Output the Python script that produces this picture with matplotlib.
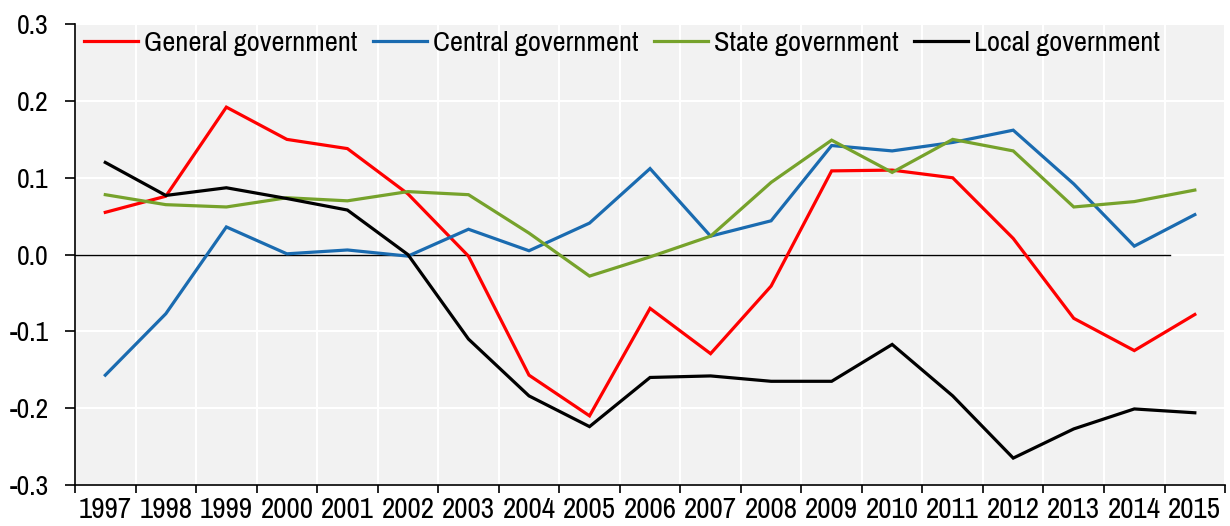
import matplotlib
matplotlib.use("Agg")
import matplotlib.pyplot as plt
from matplotlib import font_manager
from matplotlib.ticker import FixedLocator, NullFormatter, FixedFormatter

years = [str(y) for y in range(1997, 2016)]
general = [0.055, 0.076, 0.192, 0.150, 0.138, 0.079, -0.002, -0.157, -0.210, -0.070,
           -0.129, -0.041, 0.109, 0.110, 0.100, 0.021, -0.083, -0.125, -0.078]
central = [-0.157, -0.077, 0.036, 0.001, 0.006, -0.002, 0.033, 0.005, 0.041, 0.112,
           0.024, 0.044, 0.142, 0.135, 0.146, 0.162, 0.092, 0.011, 0.052]
state = [0.078, 0.065, 0.062, 0.074, 0.070, 0.082, 0.078, 0.028, -0.028, -0.003,
         0.024, 0.094, 0.149, 0.107, 0.150, 0.135, 0.062, 0.069, 0.084]
local = [0.120, 0.077, 0.087, 0.073, 0.058, 0.000, -0.110, -0.184, -0.224, -0.160,
         -0.158, -0.165, -0.165, -0.117, -0.184, -0.265, -0.227, -0.201, -0.206]
series_names = ["General government", "Central government", "State government", "Local government"]
series_colors = ["#FF0000", "#1A6BB0", "#76A22B", "#000000"]
y_ticks = [-0.3, -0.2, -0.1, 0.0, 0.1, 0.2, 0.3]

avail = {f.name for f in font_manager.fontManager.ttflist}
fam = "Liberation Sans"
for cand in ["Liberation Sans Narrow", "Arial Narrow", "Archivo Narrow", "PT Sans Narrow",
             "Roboto Condensed", "Open Sans Condensed", "Liberation Sans"]:
    if cand in avail:
        fam = cand
        break
plt.rcParams['font.family'] = [fam, 'Liberation Sans', 'DejaVu Sans']

fig = plt.figure(figsize=(12.3, 5.26), dpi=100)
ax = fig.add_axes([0.061, 0.078, 0.935, 0.876])
ax.set_facecolor("#F2F2F2")

x = list(range(len(years)))
for vals, name, col in zip([general, central, state, local], series_names, series_colors):
    ax.plot(x, vals, color=col, lw=2.3, label=name, solid_joinstyle='miter')

ax.axhline(0, xmin=0, xmax=0.952, color="black", lw=1.0, zorder=1.5)

ax.set_xlim(-0.5, len(years) - 0.5)
ax.set_ylim(-0.3, 0.3)

ax.set_yticks(y_ticks)
ax.set_yticklabels([f"{v:.1f}" for v in y_ticks])

bounds = [i - 0.5 for i in range(len(years) + 1)]
ax.xaxis.set_major_locator(FixedLocator(bounds))
ax.xaxis.set_major_formatter(NullFormatter())
ax.xaxis.set_minor_locator(FixedLocator(x))
ax.xaxis.set_minor_formatter(FixedFormatter(years))
ax.tick_params(axis='x', which='major', length=6, width=1.2, direction='out')
ax.tick_params(axis='x', which='minor', length=0, labelsize=21, pad=8)
ax.tick_params(axis='y', length=7, width=1.2, direction='out', labelsize=20, pad=12)

ax.grid(True, which='major', color='white', lw=1.5)
ax.set_axisbelow(True)
for s in ['top', 'right']:
    ax.spines[s].set_visible(False)
for s in ['left', 'bottom']:
    ax.spines[s].set_linewidth(1.2)

leg = ax.legend(loc='center left', bbox_to_anchor=(0.0078, 0.959), ncol=4, frameon=False,
                fontsize=20.5, handlelength=1.9, handletextpad=0.2, columnspacing=0.55,
                borderaxespad=0.0, borderpad=0.0)

fig.savefig("out.png", dpi=100)
